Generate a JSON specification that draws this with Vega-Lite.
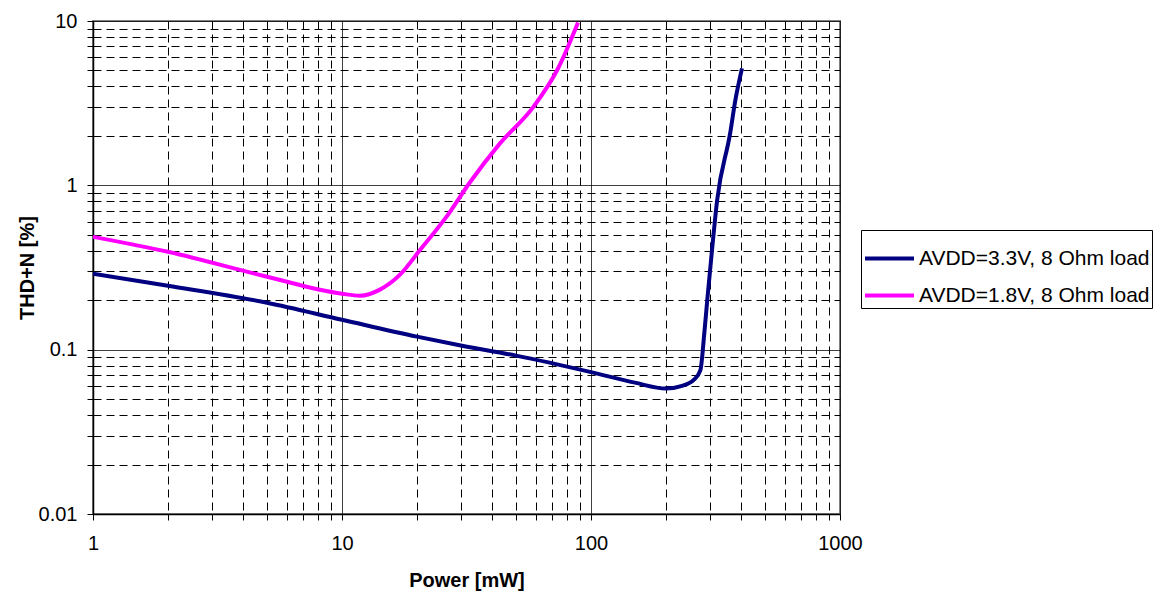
{
  "$schema": "https://vega.github.io/schema/vega-lite/v6.json",
  "autosize": "none",
  "padding": {"left": 93, "top": 21, "right": 318, "bottom": 77},
  "width": 747,
  "height": 493,
  "background": "white",
  "config": {
    "font": "Liberation Sans",
    "view": {"stroke": "#808080", "strokeWidth": 2}
  },
  "data": {
    "values": [
      {"s": "AVDD=3.3V, 8 Ohm load", "p": 1, "thd": 0.29},
      {"s": "AVDD=3.3V, 8 Ohm load", "p": 2, "thd": 0.245},
      {"s": "AVDD=3.3V, 8 Ohm load", "p": 5, "thd": 0.193},
      {"s": "AVDD=3.3V, 8 Ohm load", "p": 10, "thd": 0.152},
      {"s": "AVDD=3.3V, 8 Ohm load", "p": 20, "thd": 0.12},
      {"s": "AVDD=3.3V, 8 Ohm load", "p": 30, "thd": 0.106},
      {"s": "AVDD=3.3V, 8 Ohm load", "p": 50, "thd": 0.092},
      {"s": "AVDD=3.3V, 8 Ohm load", "p": 100, "thd": 0.073},
      {"s": "AVDD=3.3V, 8 Ohm load", "p": 150, "thd": 0.063},
      {"s": "AVDD=3.3V, 8 Ohm load", "p": 200, "thd": 0.058},
      {"s": "AVDD=3.3V, 8 Ohm load", "p": 230, "thd": 0.06},
      {"s": "AVDD=3.3V, 8 Ohm load", "p": 260, "thd": 0.066},
      {"s": "AVDD=3.3V, 8 Ohm load", "p": 275, "thd": 0.075},
      {"s": "AVDD=3.3V, 8 Ohm load", "p": 285, "thd": 0.125},
      {"s": "AVDD=3.3V, 8 Ohm load", "p": 293, "thd": 0.2},
      {"s": "AVDD=3.3V, 8 Ohm load", "p": 306, "thd": 0.4},
      {"s": "AVDD=3.3V, 8 Ohm load", "p": 321, "thd": 0.81},
      {"s": "AVDD=3.3V, 8 Ohm load", "p": 362, "thd": 2.07},
      {"s": "AVDD=3.3V, 8 Ohm load", "p": 380, "thd": 3.3},
      {"s": "AVDD=3.3V, 8 Ohm load", "p": 404, "thd": 5.15},
      {"s": "AVDD=1.8V, 8 Ohm load", "p": 1, "thd": 0.486},
      {"s": "AVDD=1.8V, 8 Ohm load", "p": 2, "thd": 0.394},
      {"s": "AVDD=1.8V, 8 Ohm load", "p": 5, "thd": 0.278},
      {"s": "AVDD=1.8V, 8 Ohm load", "p": 10, "thd": 0.219},
      {"s": "AVDD=1.8V, 8 Ohm load", "p": 11.8, "thd": 0.213},
      {"s": "AVDD=1.8V, 8 Ohm load", "p": 14.2, "thd": 0.232},
      {"s": "AVDD=1.8V, 8 Ohm load", "p": 17.1, "thd": 0.286},
      {"s": "AVDD=1.8V, 8 Ohm load", "p": 20.6, "thd": 0.405},
      {"s": "AVDD=1.8V, 8 Ohm load", "p": 26.3, "thd": 0.645},
      {"s": "AVDD=1.8V, 8 Ohm load", "p": 32.6, "thd": 1.04},
      {"s": "AVDD=1.8V, 8 Ohm load", "p": 43.1, "thd": 1.8},
      {"s": "AVDD=1.8V, 8 Ohm load", "p": 58.5, "thd": 2.98},
      {"s": "AVDD=1.8V, 8 Ohm load", "p": 73.7, "thd": 5.14},
      {"s": "AVDD=1.8V, 8 Ohm load", "p": 88.7, "thd": 9.8}
    ]
  },
  "mark": {"type": "line", "strokeWidth": 4, "interpolate": "monotone", "clip": true},
  "encoding": {
    "x": {
      "field": "p", "type": "quantitative",
      "scale": {"type": "log", "domain": [1, 1000], "nice": false},
      "axis": {
        "title": "Power [mW]",
        "values": [1,2,3,4,5,6,7,8,9,10,20,30,40,50,60,70,80,90,100,200,300,400,500,600,700,800,900,1000],
        "labelExpr": "abs(log(datum.value)/LN10 - round(log(datum.value)/LN10)) < 0.000001 ? datum.label : ''",
        "format": "d",
        "labelFontSize": 20, "labelColor": "black", "labelPadding": 13, "labelFlush": false, "labelOverlap": false,
        "tickSize": 6, "tickColor": "black",
        "domainColor": "black", "domainWidth": 1.5,
        "titleFontSize": 20, "titleFontWeight": "bold", "titleColor": "black", "titlePadding": 17,
        "grid": true, "gridColor": "black", "gridOpacity": 1, "gridWidth": 1,
        "gridDash": {"condition": {"test": "abs(log(datum.value)/LN10 - round(log(datum.value)/LN10)) < 0.000001", "value": [1, 0]}, "value": [8, 5]}
      }
    },
    "y": {
      "field": "thd", "type": "quantitative",
      "scale": {"type": "log", "domain": [0.01, 10], "nice": false},
      "axis": {
        "title": "THD+N [%]",
        "values": [0.01,0.02,0.03,0.04,0.05,0.06,0.07,0.08,0.09,0.1,0.2,0.3,0.4,0.5,0.6,0.7,0.8,0.9,1,2,3,4,5,6,7,8,9,10],
        "labelExpr": "abs(log(datum.value)/LN10 - round(log(datum.value)/LN10)) < 0.000001 ? format(datum.value, '~g') : ''",
        "labelFontSize": 20, "labelColor": "black", "labelPadding": 10, "labelFlush": false, "labelOverlap": false,
        "tickSize": 6, "tickColor": "black",
        "domainColor": "black", "domainWidth": 1.5,
        "titleFontSize": 20, "titleFontWeight": "bold", "titleColor": "black", "titlePadding": 1,
        "grid": true, "gridColor": "black", "gridOpacity": 1, "gridWidth": 1,
        "gridDash": {"condition": {"test": "abs(log(datum.value)/LN10 - round(log(datum.value)/LN10)) < 0.000001", "value": [1, 0]}, "value": [8, 5]}
      }
    },
    "color": {
      "field": "s", "type": "nominal",
      "scale": {"domain": ["AVDD=3.3V, 8 Ohm load", "AVDD=1.8V, 8 Ohm load"], "range": ["#000080", "#FF00FF"]},
      "legend": {
        "title": null,
        "orient": "none", "legendX": 768, "legendY": 209,
        "symbolType": "stroke", "symbolSize": 2400, "symbolStrokeWidth": 4,
        "labelFontSize": 21, "labelColor": "black", "labelOffset": 3, "labelLimit": 400,
        "strokeColor": "black", "fillColor": "white",
        "padding": 2, "rowPadding": -8
      }
    }
  }
}
